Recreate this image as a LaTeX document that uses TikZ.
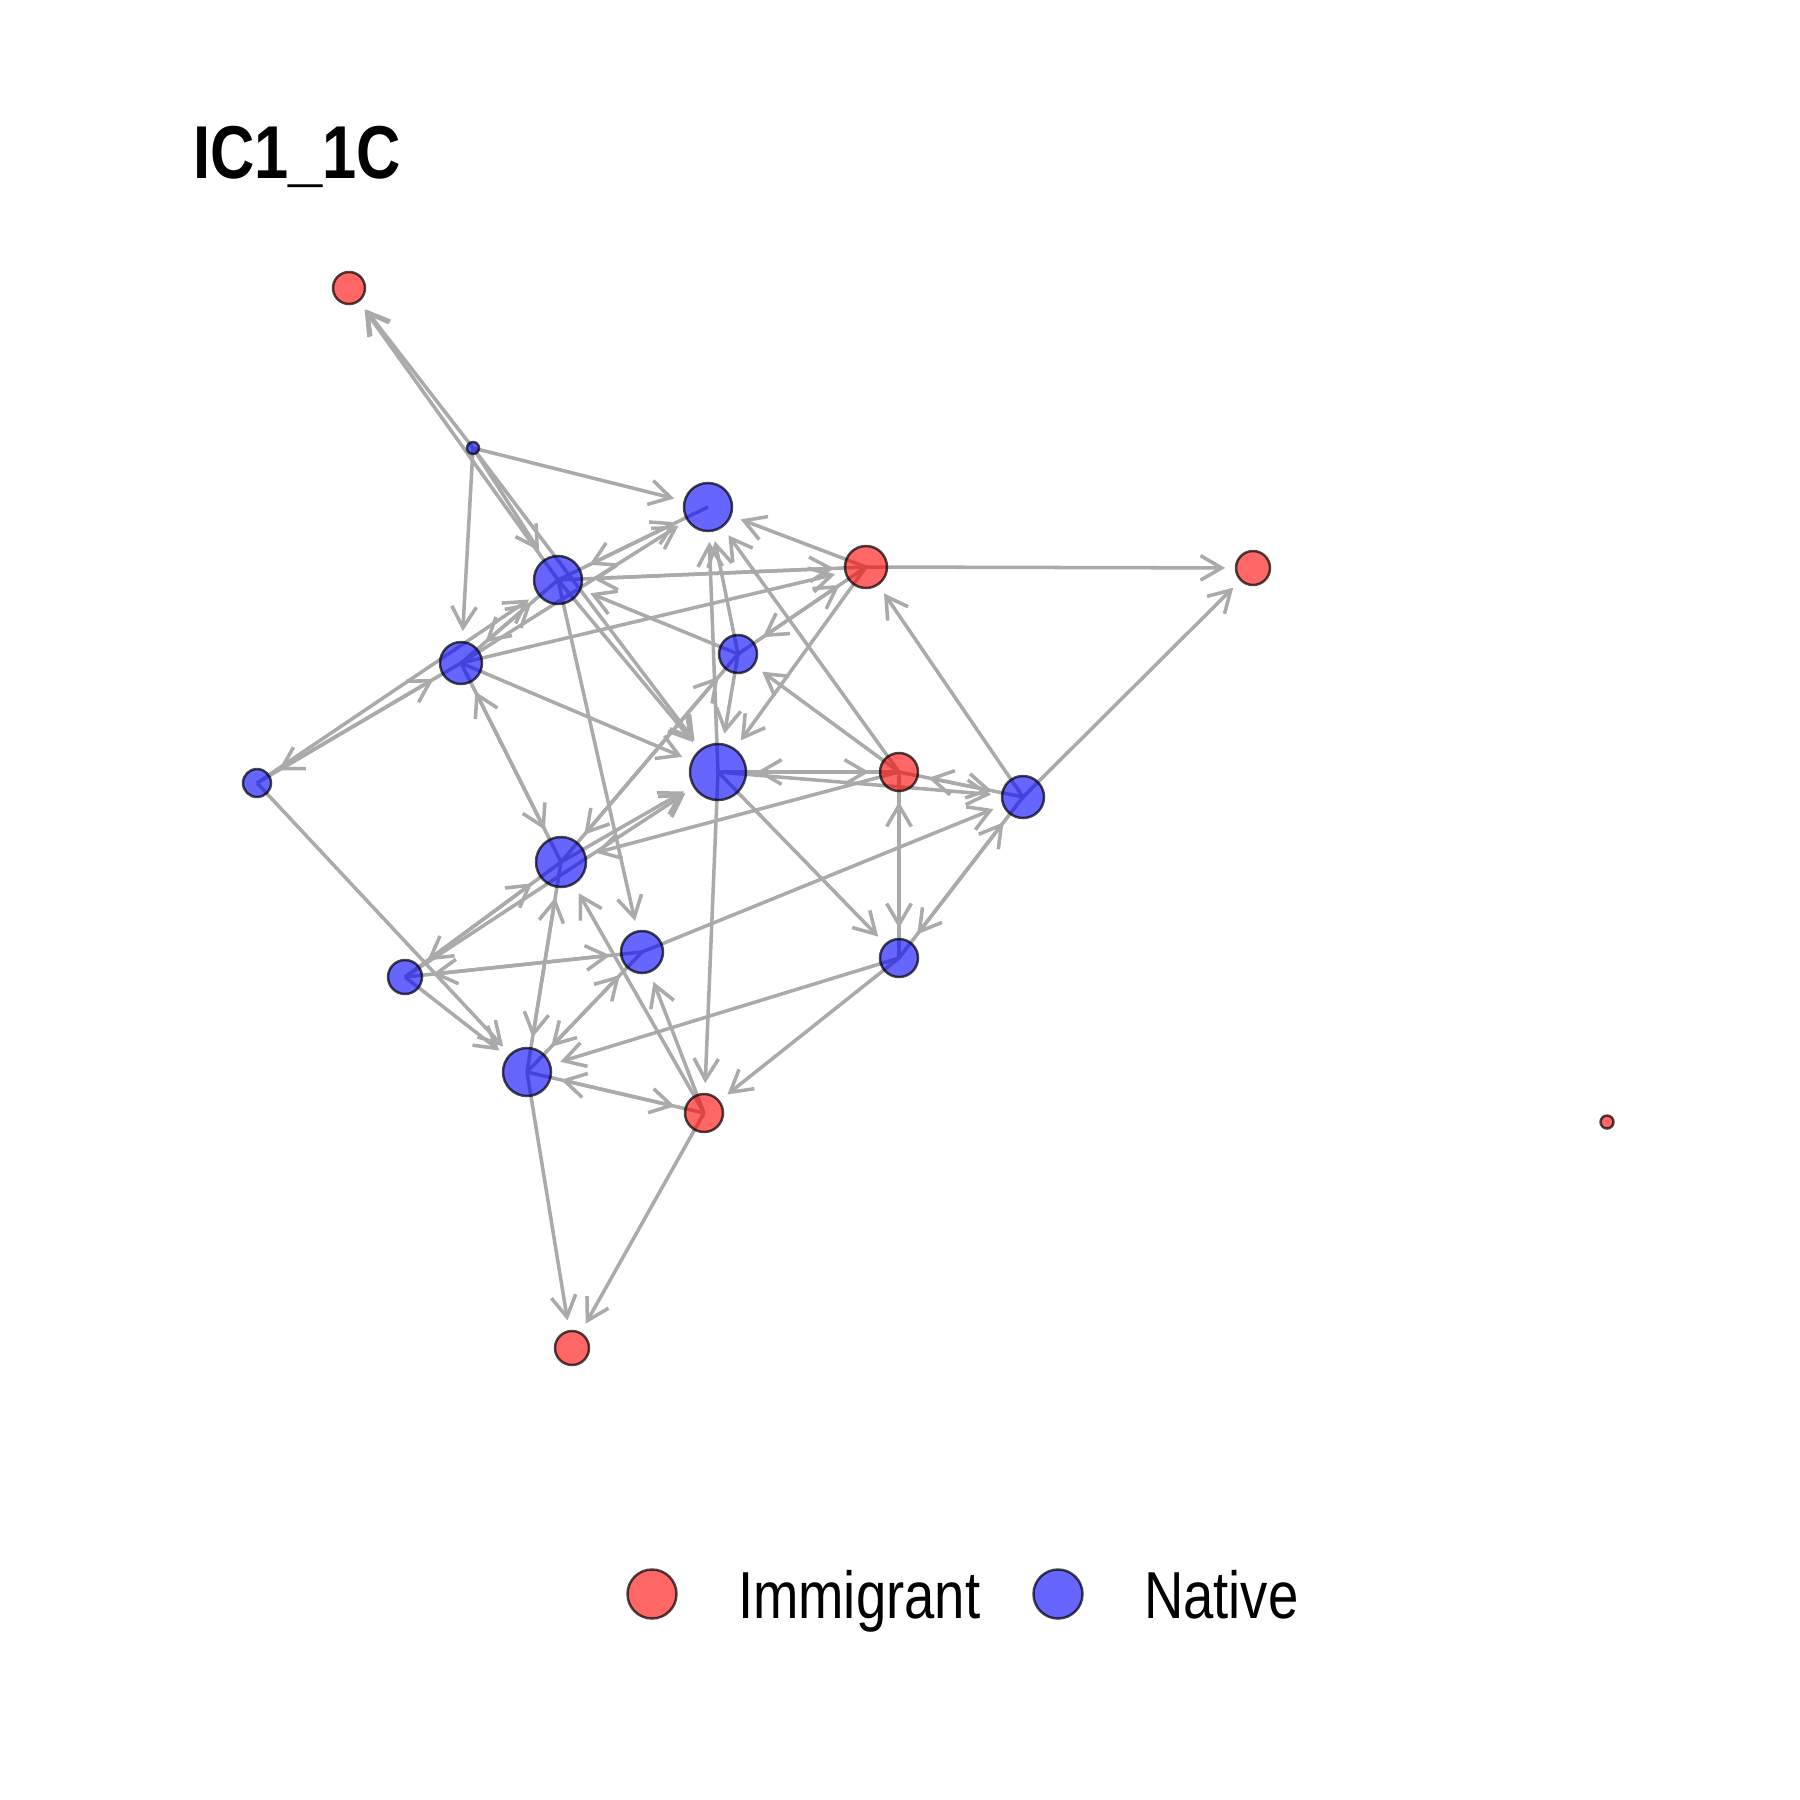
\documentclass[tikz,border=0pt]{standalone}
\usepackage{fontspec}
\setmainfont{Liberation Sans}
\newfontfamily\nfont[FakeStretch=0.82]{Liberation Sans}
\usetikzlibrary{arrows.meta}
\pgfdeclarelayer{bg}
\pgfsetlayers{bg,main}
\definecolor{edgegray}{RGB}{170,170,170}
\begin{document}
\begin{tikzpicture}[x=0.01cm,y=-0.01cm,
  vx/.style={circle,inner sep=0pt,outer sep=0pt,minimum size={#1*0.02cm},
    line width=0.7pt,draw=black,draw opacity=0.7,fill opacity=0.6},
  imm/.style={vx=#1,fill=red},
  nat/.style={vx=#1,fill=blue},
  edge/.style={draw=edgegray,line width=1.0pt,
    -{Straight Barb[length=6pt,width=7pt,line width=1.0pt]},shorten >=3.1pt},
  lbl/.style={anchor=base west,inner sep=0pt,outer sep=0pt}]
\useasboundingbox (0,0) rectangle (1800,1800);
% title
\node[lbl,font=\nfont\bfseries\fontsize{21.3pt}{24pt}\selectfont] (title) at (193,179) {IC1\_1C};
% vertices
\node[imm=16]  (A) at (349,288) {};
\node[nat=6]   (B) at (473,448) {};
\node[nat=24]  (C) at (708,507) {};
\node[imm=21]  (D) at (866,567) {};
\node[imm=17]  (E) at (1253,568) {};
\node[nat=24]  (F) at (558,580) {};
\node[nat=21]  (G) at (461,663) {};
\node[nat=19]  (H) at (738,654) {};
\node[nat=14]  (I) at (257,783) {};
\node[nat=28]  (J) at (718,772) {};
\node[imm=19]  (K) at (899,772) {};
\node[nat=21]  (L) at (1023,797) {};
\node[nat=25]  (M) at (561,862) {};
\node[nat=21]  (N) at (642,952) {};
\node[nat=19]  (O) at (899,958) {};
\node[nat=17]  (P) at (405,977) {};
\node[nat=24]  (Q) at (527,1072) {};
\node[imm=19]  (R) at (704,1113) {};
\node[imm=17]  (S) at (572,1348) {};
\node[imm=6.5] (T) at (1607,1122) {};
% edges
\begin{pgfonlayer}{bg}
\fill[white] (0,0) rectangle (1800,1800);
\foreach \s/\t in {B/A,B/C,B/F,B/G,B/J,
  C/F,
  D/C,D/E,D/F,D/H,D/J,
  F/A,F/C,F/D,F/G,F/J,F/N,
  G/C,G/D,G/F,G/I,G/J,G/M,
  H/C,H/D,H/F,H/J,H/M,
  I/F,I/G,I/Q,
  J/C,J/K,J/L,J/O,J/R,
  K/C,K/H,K/J,K/L,K/M,K/O,
  L/D,L/E,L/K,L/O,
  M/G,M/H,M/J,M/P,M/Q,
  N/L,N/P,N/Q,
  O/K,O/L,O/Q,O/R,
  P/J,P/M,P/N,P/Q,
  Q/M,Q/N,Q/R,Q/S,
  R/M,R/N,R/Q,R/S}
  \draw[edge] (\s.center) -- (\t);
\end{pgfonlayer}
% legend
\node[imm=24.5] (legI) at (652,1594) {};
\node[lbl,font=\nfont\fontsize{18.9pt}{22pt}\selectfont] (legIt) at (738,1618) {Immigrant};
\node[nat=24.5] (legN) at (1058,1594) {};
\node[lbl,font=\nfont\fontsize{18.9pt}{22pt}\selectfont] (legNt) at (1144,1618) {Native};
\end{tikzpicture}
\end{document}
